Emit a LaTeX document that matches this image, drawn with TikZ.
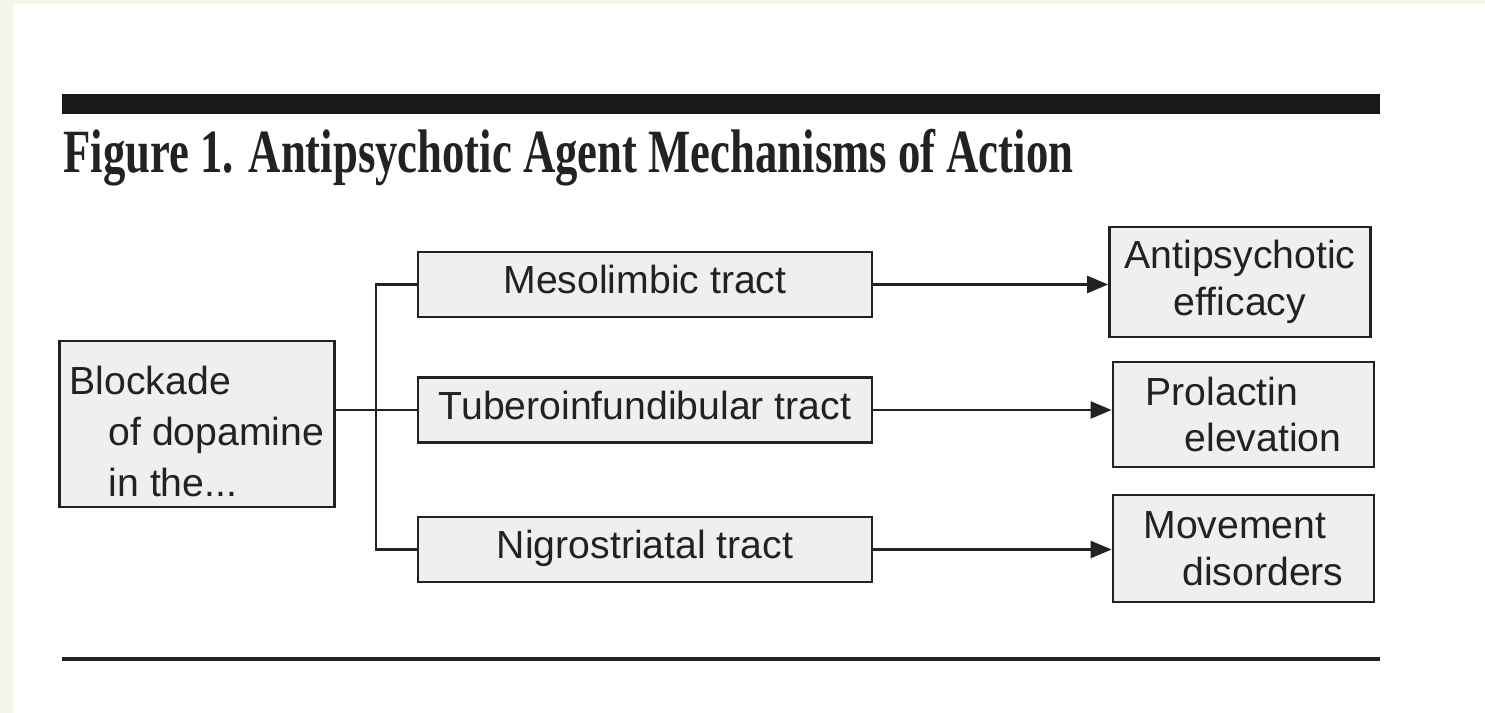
\documentclass[tikz,border=0pt]{standalone}
\usepackage{fontspec}
\usepackage{graphicx}
\setmainfont{Liberation Serif}
\setsansfont{Liberation Sans}
\usetikzlibrary{arrows.meta}
\definecolor{strip}{RGB}{243,246,232}
\definecolor{boxfill}{RGB}{239,239,239}
\definecolor{ink}{RGB}{34,34,34}
\begin{document}
\begin{tikzpicture}[x=0.02cm,y=-0.02cm,
    tbox/.style={draw=ink,line width=1.6pt,fill=boxfill,inner sep=0pt,text=ink,
      font=\sffamily\fontsize{22.3}{29}\selectfont},
    tract/.style={tbox,minimum width=9.08cm,minimum height=1.3cm,text height=0.36cm,text depth=0pt},
    effect/.style={tbox,minimum width=5.22cm,font=\sffamily\fontsize{22.3}{26.5}\selectfont},
    link/.style={draw=ink,line width=1.4pt},
    tip/.style={-{Triangle[length=0.42cm,width=0.34cm]}}]
    \useasboundingbox (0,0) rectangle (1485,713);
    \fill[white] (0,0) rectangle (1485,713);
    \fill[strip] (0,0) rectangle (13,713);
    \fill[strip] (0,0) rectangle (1485,4);
    \fill[black!90] (62,94) rectangle (1380,114);
    \node[anchor=base west,inner sep=0pt,text=ink,font=\bfseries\fontsize{35}{40}\selectfont] (title) at (63,173)
        {\scalebox{0.727}[1]{Figure 1. Antipsychotic Agent Mechanisms of Action}};
    \draw[ink,line width=2.2pt] (62,659) -- (1380,659);
    \node[tbox,minimum width=5.5cm,minimum height=3.32cm,align=left] (block) at (197,424)
        {\rule{0pt}{0.88cm}Blockade\\\hspace*{0.78cm}of dopamine\\\hspace*{0.78cm}in the...};
    \node[tract] (meso) at (645,284.5) {Mesolimbic tract};
    \node[tract] (tube) at (645,410) {Tuberoinfundibular tract};
    \node[tract] (nigro) at (645,549.5) {Nigrostriatal tract};
    \node[effect,minimum height=2.2cm,align=center] (anti) at (1240,282) {Antipsychotic\\efficacy};
    \node[effect,minimum height=2.1cm,align=left] (prol) at (1243.5,414.5) {Prolactin\\\hspace*{0.78cm}elevation};
    \node[effect,minimum height=2.14cm,align=left] (move) at (1243.5,548.5) {Movement\\\hspace*{0.78cm}disorders};
    \coordinate (fork) at (376,410);
    \draw[link] (block.east |- tube.west) -- (tube.west);
    \draw[link] (meso.west) -| (fork |- nigro.west) -- (nigro.west);
    \draw[link,tip] (meso.east) -- (meso.east -| anti.west);
    \draw[link,tip] (tube.east) -- (tube.east -| prol.west);
    \draw[link,tip] (nigro.east) -- (nigro.east -| move.west);
\end{tikzpicture}
\end{document}
